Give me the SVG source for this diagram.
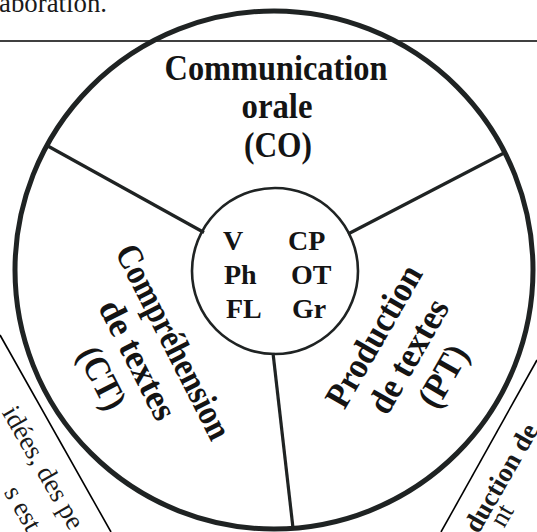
<svg xmlns="http://www.w3.org/2000/svg" width="537" height="532" viewBox="0 0 537 532">
<style>
.lbl{font-family:"Liberation Serif","DejaVu Serif",serif;font-weight:bold;fill:#141414}
.big{font-size:36px;text-anchor:middle}
.mid{font-size:28px}
.page{font-family:"Liberation Serif","DejaVu Serif",serif;font-size:27px;fill:#1a1a1a}
.ring{fill:none;stroke:#1f2323}
.thin{fill:none;stroke:#000;stroke-width:1.6}
</style>
<rect width="537" height="532" fill="#fff"/>
<!-- page fragments -->
<text class="page" x="-1" y="12" font-size="26" textLength="108" lengthAdjust="spacingAndGlyphs">aboration.</text>
<line class="thin" x1="0" y1="41" x2="537" y2="41"/>
<line class="thin" x1="0" y1="335" x2="111" y2="532"/>
<line class="thin" x1="537" y1="360" x2="441" y2="532"/>
<g transform="translate(0,410) rotate(60)">
<text class="page" x="3" y="0">idées, des pe</text>
<text class="page" x="73" y="38">s est</text>
</g>
<g transform="translate(539,430) rotate(-60)">
<text class="page" x="0" y="0" font-weight="bold" font-size="26" text-anchor="end">duction de</text>
<text class="page" x="-103" y="19" text-anchor="start">nt</text>
</g>
<!-- outer circle -->
<g id="outer">
<circle class="ring" cx="274" cy="270" r="259" stroke-width="5"/>
</g>
<!-- connectors -->
<g id="connectors" stroke="#1f2323" stroke-width="3.2" fill="none">
<line x1="204" y1="232.5" x2="46" y2="145"/>
<line x1="348" y1="234" x2="504" y2="153"/>
<line x1="273" y1="353" x2="293" y2="528"/>
</g>
<!-- center node -->
<g id="center">
<circle class="ring" cx="275" cy="271" r="83" stroke-width="2.6" fill="#fff"/>
<text class="lbl mid" x="223" y="250">V</text>
<text class="lbl mid" x="288" y="250">CP</text>
<text class="lbl mid" x="224" y="284">Ph</text>
<text class="lbl mid" x="291" y="284">OT</text>
<text class="lbl mid" x="226" y="318">FL</text>
<text class="lbl mid" x="292" y="318">Gr</text>
</g>
<g id="co">
<text class="lbl big" x="276" y="80" textLength="223" lengthAdjust="spacingAndGlyphs">Communication</text>
<text class="lbl big" x="277" y="118" textLength="71" lengthAdjust="spacingAndGlyphs">orale</text>
<text class="lbl big" x="278" y="157" textLength="68" lengthAdjust="spacingAndGlyphs">(CO)</text>
</g>
<g id="ct" transform="translate(163,347) rotate(63)">
<text class="lbl big" x="0" y="0" textLength="214" lengthAdjust="spacingAndGlyphs">Compréhension</text>
<text class="lbl big" x="0" y="40" textLength="130" lengthAdjust="spacingAndGlyphs">de textes</text>
<text class="lbl big" x="0" y="80" textLength="66" lengthAdjust="spacingAndGlyphs">(CT)</text>
</g>
<g id="pt" transform="translate(384,342) rotate(-60)">
<text class="lbl big" x="0" y="0" textLength="158" lengthAdjust="spacingAndGlyphs">Production</text>
<text class="lbl big" x="0" y="40" textLength="126" lengthAdjust="spacingAndGlyphs">de textes</text>
<text class="lbl big" x="0" y="80" textLength="66" lengthAdjust="spacingAndGlyphs">(PT)</text>
</g>
</svg>
